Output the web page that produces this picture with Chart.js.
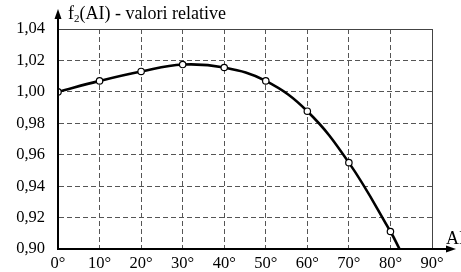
<!DOCTYPE html>
<html>
<head>
<meta charset="utf-8">
<script src="https://cdn.jsdelivr.net/npm/chart.js@4"></script>
<style>
  html, body { margin: 0; padding: 0; background: #fff; }
  #wrap { width: 461px; height: 272px; }
</style>
</head>
<body>
<div id="wrap"><canvas id="f2Chart"></canvas></div>
<script>
// Dati
const angles = [0, 10, 20, 30, 40, 50, 60, 70, 80];
const f2Values = [1.000, 1.007, 1.013, 1.0174, 1.0155, 1.007, 0.9877, 0.955, 0.9112];
// la curva prosegue fino all'asse x
const curveEnd = { x: 82.2, y: 0.90 };
const xTicks = [0, 10, 20, 30, 40, 50, 60, 70, 80, 90];
const yTicks = [0.90, 0.92, 0.94, 0.96, 0.98, 1.00, 1.02, 1.04];

const FONT = '"Liberation Serif", "DejaVu Serif", serif';

const points = angles.map((a, i) => ({ x: a, y: f2Values[i] }));
points.push(curveEnd);

// assi con frecce, bordi e etichette
const axesPlugin = {
    id: 'axesPlugin',
    afterDatasetsDraw(chart) {
        const { ctx, chartArea: a } = chart;
        ctx.save();
        // bordo superiore e destro
        ctx.strokeStyle = '#444';
        ctx.lineWidth = 1;
        ctx.setLineDash([]);
        ctx.beginPath();
        ctx.moveTo(a.left, Math.round(a.top) + 0.5);
        ctx.lineTo(Math.round(a.right) + 0.5, Math.round(a.top) + 0.5);
        ctx.lineTo(Math.round(a.right) + 0.5, a.bottom);
        ctx.stroke();

        // assi
        ctx.strokeStyle = '#000';
        ctx.fillStyle = '#000';
        ctx.lineWidth = 2;
        ctx.beginPath();
        ctx.moveTo(a.left, a.bottom);
        ctx.lineTo(a.left, 14);
        ctx.moveTo(a.left, a.bottom);
        ctx.lineTo(448, a.bottom);
        ctx.stroke();

        // frecce
        ctx.beginPath();
        ctx.moveTo(a.left, 9);
        ctx.lineTo(a.left - 3.5, 19);
        ctx.lineTo(a.left + 3.5, 19);
        ctx.closePath();
        ctx.fill();
        ctx.beginPath();
        ctx.moveTo(456, a.bottom);
        ctx.lineTo(446, a.bottom - 3.5);
        ctx.lineTo(446, a.bottom + 3.5);
        ctx.closePath();
        ctx.fill();

        // titolo asse y con pedice
        ctx.fillStyle = '#000';
        ctx.textBaseline = 'alphabetic';
        ctx.textAlign = 'left';
        let x = 68;
        const y = 19;
        ctx.font = '18px ' + FONT;
        ctx.fillText('f', x, y);
        x += ctx.measureText('f').width;
        ctx.font = '11px ' + FONT;
        ctx.fillText('2', x, y + 3);
        x += ctx.measureText('2').width;
        ctx.font = '18px ' + FONT;
        ctx.fillText('(AI) - valori relative', x, y);

        // etichetta asse x
        ctx.fillText('AI', 446, 244);
        ctx.restore();
    }
};

new Chart(document.getElementById('f2Chart').getContext('2d'), {
    type: 'line',
    data: {
        datasets: [{
            data: points,
            borderColor: '#000',
            borderWidth: 2.6,
            tension: 0.4,
            pointRadius: ctx => ctx.dataIndex === angles.length ? 0 : 3.2,
            pointBackgroundColor: '#fff',
            pointBorderColor: '#000',
            pointBorderWidth: 1.2,
            fill: false
        }]
    },
    options: {
        responsive: true,
        maintainAspectRatio: false,
        animation: false,
        layout: { padding: { left: 0, top: 29, right: 29, bottom: 0 } },
        plugins: {
            legend: { display: false },
            tooltip: { enabled: false }
        },
        scales: {
            x: {
                type: 'linear',
                min: 0,
                max: 90,
                afterFit: s => { s.height = 21; },
                afterBuildTicks: s => { s.ticks = xTicks.map(v => ({ value: v })); },
                grid: { color: '#555', lineWidth: 1, drawTicks: false, borderDash: [5, 3] },
                border: { display: true, color: '#000', width: 2, dash: [5, 3] },
                ticks: {
                    padding: 5,
                    color: '#000',
                    font: { family: FONT, size: 16.5 },
                    callback: v => v + '°'
                }
            },
            y: {
                min: 0.90,
                max: 1.04,
                afterFit: s => { s.width = 58; },
                afterBuildTicks: s => { s.ticks = yTicks.map(v => ({ value: v })); },
                grid: { color: '#555', lineWidth: 1, drawTicks: false, borderDash: [5, 3] },
                border: { display: true, color: '#000', width: 2, dash: [5, 3] },
                ticks: {
                    padding: 13,
                    color: '#000',
                    font: { family: FONT, size: 16.5 },
                    callback: v => v.toFixed(2).replace('.', ',')
                }
            }
        }
    },
    plugins: [axesPlugin]
});
</script>
</body>
</html>
